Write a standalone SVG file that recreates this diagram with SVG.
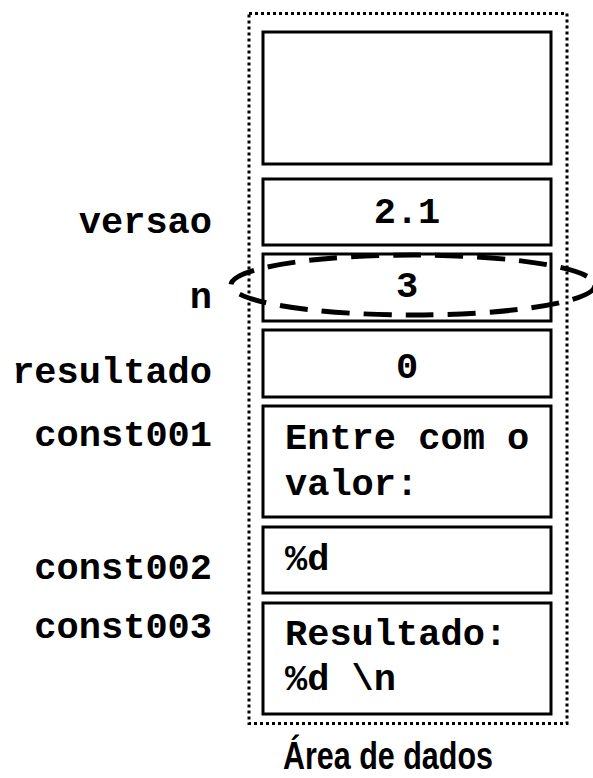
<svg xmlns="http://www.w3.org/2000/svg" width="593" height="778" viewBox="0 0 593 778">
<style>
.box{fill:#fff;stroke:#000;stroke-width:3}
.mono{font-family:"Liberation Mono","Courier New",monospace;font-weight:bold;font-size:37px;fill:#000}
.lbl{text-anchor:end}
.mid{text-anchor:middle}
</style>
<rect width="593" height="778" fill="#fff"/>
<g id="area">
<rect x="249" y="13.5" width="318" height="710" fill="none" stroke="#000" stroke-width="3" stroke-dasharray="3 3"/>
<text x="388" y="769" font-family="Liberation Sans,Arial,sans-serif" font-weight="bold" font-size="38" text-anchor="middle" textLength="210" lengthAdjust="spacingAndGlyphs">Área de dados</text>
</g>
<g id="box1"><rect class="box" x="263" y="32" width="288" height="132"/></g>
<g id="versao"><rect class="box" x="263" y="179" width="288" height="66"/><text class="mono mid" x="407" y="223">2.1</text><text class="mono lbl" x="212" y="233">versao</text></g>
<g id="n"><rect class="box" x="263" y="254" width="288" height="67"/><text class="mono mid" x="407" y="297">3</text><text class="mono lbl" x="212" y="308">n</text></g>
<g id="resultado"><rect class="box" x="263" y="330" width="288" height="67"/><text class="mono mid" x="407" y="378">0</text><text class="mono lbl" x="212" y="383">resultado</text></g>
<g id="const001"><rect class="box" x="263" y="406" width="288" height="111"/><text class="mono" x="285" y="449">Entre com o</text><text class="mono" x="285" y="495">valor:</text><text class="mono lbl" x="212" y="446">const001</text></g>
<g id="const002"><rect class="box" x="263" y="527" width="288" height="66"/><text class="mono" x="285" y="570">%d</text><text class="mono lbl" x="212" y="579">const002</text></g>
<g id="const003"><rect class="box" x="263" y="603" width="288" height="111"/><text class="mono" x="285" y="645">Resultado:</text><text class="mono" x="285" y="690">%d \n</text><text class="mono lbl" x="212" y="638">const003</text></g>
<g id="highlight"><ellipse cx="413" cy="285" rx="182" ry="30" fill="none" stroke="#000" stroke-width="5" stroke-dasharray="28 14"/></g>
</svg>
